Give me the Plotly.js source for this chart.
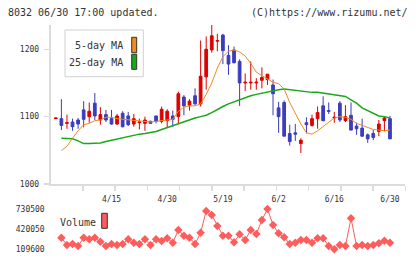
<!DOCTYPE html>
<html><head><meta charset="utf-8">
<script src="https://cdn.plot.ly/plotly-3.0.1.min.js"></script>
<style>html,body{margin:0;padding:0;background:#fff}#chart{width:420px;height:259px}</style>
</head><body><div id="chart"></div>
<script>
const dates = ['4/1','4/2','4/3','4/4','4/7','4/8','4/9','4/10','4/11','4/14',
  '4/15','4/16','4/17','4/18','4/21','4/22','4/23','4/24','4/25','4/28',
  '4/30','5/1','5/2','5/7','5/8','5/9','5/12','5/13','5/14','5/15',
  '5/19','5/20','5/21','5/22','5/23','5/26','5/27','5/28','5/29','5/30',
  '6/2','6/3','6/4','6/5','6/6','6/9','6/10','6/11','6/12','6/13',
  '6/16','6/17','6/18','6/19','6/20','6/23','6/24','6/25','6/26','6/27','6/30'];
const openPrices = [1097,1097,1090,1092,1095,1110,1100,1120,1095,1103,
  1097,1089,1105,1101,1089,1091,1090,1093,1101,1093,
  1094,1101,1100,1129,1117,1131,1119,1159,1199,1212,
  1221,1191,1199,1182,1150,1150,1150,1154,1155,1147,
  1113,1121,1075,1076,1060,1091,1087,1097,1116,1109,
  1098,1120,1094,1102,1086,1083,1073,1075,1078,1094,1097];
const highPrices = [1098,1126,1103,1097,1098,1123,1121,1135,1114,1110,
  1110,1104,1108,1107,1104,1097,1100,1094,1101,1115,
  1111,1109,1137,1132,1126,1142,1213,1219,1238,1223,
  1223,1206,1204,1185,1164,1182,1157,1173,1163,1155,
  1122,1124,1088,1089,1068,1099,1103,1115,1130,1121,
  1107,1123,1117,1121,1091,1097,1075,1080,1095,1100,1101];
const lowPrices = [1097,1080,1082,1079,1082,1084,1091,1095,1088,1092,
  1088,1088,1084,1086,1085,1081,1079,1089,1090,1090,
  1083,1085,1090,1102,1109,1117,1115,1140,1195,1197,
  1178,1162,1179,1116,1138,1140,1140,1142,1147,1102,
  1076,1071,1057,1064,1046,1075,1085,1082,1093,1104,
  1091,1092,1092,1080,1073,1070,1061,1065,1071,1078,1067];
const closePrices = [1098,1087,1091,1085,1089,1096,1108,1101,1103,1095,
  1089,1101,1085,1088,1097,1092,1095,1090,1093,1111,
  1108,1096,1134,1116,1123,1119,1160,1200,1220,1213,
  1198,1178,1180,1150,1151,1151,1151,1158,1163,1134,
  1100,1071,1063,1074,1065,1088,1097,1106,1094,1108,
  1099,1095,1100,1080,1082,1071,1067,1069,1089,1098,1067];
const ma5 = [null,1049.5,1056,1068,1079,1088,1090,1094,1095,1099,
  1099,1097,1096,1095,1094,1093,1093,1092,1093,1094,
  1096,1096,1108,1114,1116,1116,1119,1133,1150,1172,
  1189,1197,1199,1196,1190,1179,1166,1161,1156,1151,
  1149,1141,1121,1105,1089,1076,1074,1079,1085,1091,
  1098,1100,1099,1096,1090,1087,1084,1081,1080,1079,1080];
const ma25 = [null,1068,1067,1067,1064,1060,1060,1060,1061,1063,
  1065,1066,1068,1070,1072,1074,1075,1076,1078,1081,
  1084,1086,1090,1093,1096,1098,1100,1102,1106,1111,
  1115,1119,1122,1126,1128,1131,1133,1135,1137,1139,
  1140,1141,1140,1138,1137,1136,1136,1136,1135,1134,
  1133,1132,1130,1125,1120,1113,1109,1104,1101,1100,1098];
const volume = [null,288300,175800,191300,160400,288300,263600,288300,226700,160400,
  191300,175800,191300,263600,211300,191300,263600,175800,263600,237500,
  279000,211300,407000,319100,288300,191300,365400,699700,638100,468600,
  319900,319900,217400,340700,252900,407000,345300,561000,730500,484000,
  356000,294500,191300,211300,252900,252900,211300,279000,279000,160400,
  109600,175800,160400,587200,160400,175800,160400,175800,202000,242100,211300];
const labelDates = ['4/15','4/30','5/19','6/2','6/16','6/30'];

const W = 420, H = 259;
const px = x => x / W, py = y => 1 - y / H;
const FONT = 'DejaVu Sans Mono';
const AX = '#dcdcdc';
const idx = dates.map((d, i) => i);
const xRange = [-0.92, 62.75];
const divs = [];
for (let k = 1; k <= 11; k++) divs.push(xRange[0] + k * (xRange[1] - xRange[0]) / 11);
const vals = volume.filter(v => v != null);
const vMax = Math.max(...vals), vMin = Math.min(...vals);
const volTicks = [vMin, (vMin + vMax) / 2, vMax];
const perPx = (vMax - vMin) / 40.3;
const vRange = [vMin - 6.7 * perPx, vMax + 9 * perPx];

const traces = [
  {type: 'candlestick', x: idx, open: openPrices, high: highPrices, low: lowPrices, close: closePrices,
   increasing: {line: {color: '#dd0000', width: 1}, fillcolor: '#dd0000'},
   decreasing: {line: {color: '#3c3cbe', width: 1}, fillcolor: '#3c3cbe'},
   whiskerwidth: 0, hoverinfo: 'skip', showlegend: false},
  {type: 'scatter', mode: 'lines', x: idx, y: ma25, line: {color: '#18a818', width: 1.5}, hoverinfo: 'skip'},
  {type: 'scatter', mode: 'lines', x: idx, y: ma5, line: {color: '#f08c1e', width: 1}, hoverinfo: 'skip'},
  {type: 'scatter', mode: 'lines+markers', x: idx, y: volume, xaxis: 'x', yaxis: 'y2',
   line: {color: '#ff5c5c', width: 1}, marker: {symbol: 'diamond', size: 6.5, color: '#ff5c5c'}, hoverinfo: 'skip'}
];

const layout = {
  width: W, height: H, margin: {l: 0, r: 0, t: 0, b: 0},
  paper_bgcolor: '#fff', plot_bgcolor: '#fff', showlegend: false,
  title: {text: '8032 06/30 17:00 updated.', x: px(8), xref: 'container', xanchor: 'left',
          y: 1 - 12.5 / H, yref: 'container', yanchor: 'middle', font: {family: FONT, size: 10, color: '#333'}},
  xaxis: {domain: [px(50.7), px(405.3)], range: xRange, showline: true, linecolor: AX, linewidth: 2,
          ticks: '', tickmode: 'array', tickvals: labelDates.map(d => dates.indexOf(d)), ticktext: labelDates,
          tickfont: {family: FONT, size: 8, color: '#333'}, ticklabelstandoff: 6,
          showgrid: false, zeroline: false, rangeslider: {visible: false}, fixedrange: true,
          minor: {tickmode: 'array', tickvals: divs, ticks: 'outside', ticklen: 5, tickwidth: 1.5, tickcolor: AX, showgrid: false}},
  yaxis: {domain: [py(184), py(25)], range: [1000, 1236], showline: true, linecolor: AX, linewidth: 2,
          ticks: 'outside', ticklen: 5, tickwidth: 1.5, tickcolor: AX, tickmode: 'array', tickvals: [1000, 1100, 1200],
          tickfont: {family: FONT, size: 8, color: '#333'}, ticklabelstandoff: 3,
          showgrid: false, zeroline: false, fixedrange: true},
  yaxis2: {domain: [py(256), py(200)], range: vRange, anchor: 'x', showline: false, ticks: '',
          tickmode: 'array', tickvals: volTicks, ticktext: volTicks.map(v => String(Math.round(v))),
          tickfont: {family: FONT, size: 8, color: '#333'}, ticklabelstandoff: 5,
          showgrid: false, zeroline: false, fixedrange: true},
  shapes: [
    {type: 'rect', xref: 'paper', yref: 'paper', x0: px(65), x1: px(143.3), y0: py(76.7), y1: py(30),
     line: {color: '#d0d0d0', width: 1}, fillcolor: '#fff', layer: 'above'},
    {type: 'rect', xref: 'paper', yref: 'paper', x0: px(131.7), x1: px(136.7), y0: py(52.7), y1: py(37.3),
     line: {color: '#333', width: 1}, fillcolor: '#f08c1e', layer: 'above'},
    {type: 'rect', xref: 'paper', yref: 'paper', x0: px(131.7), x1: px(136.7), y0: py(69.3), y1: py(54.3),
     line: {color: '#333', width: 1}, fillcolor: '#18a818', layer: 'above'},
    {type: 'rect', xref: 'paper', yref: 'paper', x0: px(101.7), x1: px(107.3), y0: py(228.3), y1: py(213.3),
     line: {color: '#333', width: 1}, fillcolor: '#ff5c5c', layer: 'above'}
  ],
  annotations: [
    {text: '(C)https://www.rizumu.net/', xref: 'paper', yref: 'paper', x: px(410), y: py(12.5),
     xanchor: 'right', yanchor: 'middle', showarrow: false, font: {family: FONT, size: 10, color: '#333'}},
    {text: '5-day MA', xref: 'paper', yref: 'paper', x: px(124.5), y: py(46),
     xanchor: 'right', yanchor: 'middle', showarrow: false, font: {family: FONT, size: 10, color: '#333'}},
    {text: '25-day MA', xref: 'paper', yref: 'paper', x: px(124.5), y: py(62.7),
     xanchor: 'right', yanchor: 'middle', showarrow: false, font: {family: FONT, size: 10, color: '#333'}},
    {text: 'Volume', xref: 'paper', yref: 'paper', x: px(58), y: py(222.3),
     xanchor: 'left', yanchor: 'middle', showarrow: false, font: {family: FONT, size: 10, color: '#333'}}
  ]
};

Plotly.newPlot('chart', traces, layout, {staticPlot: true, displayModeBar: false});
</script></body></html>
